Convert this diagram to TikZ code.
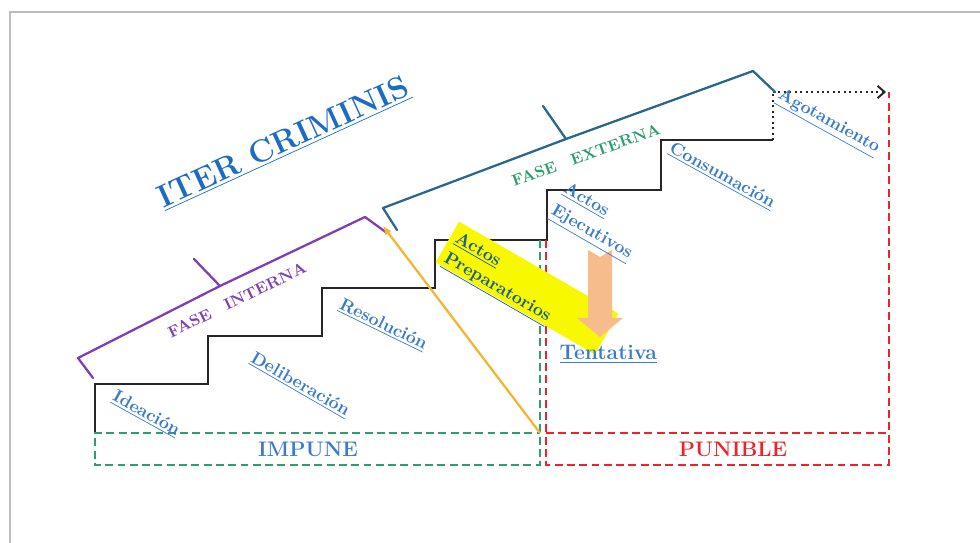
\documentclass[tikz,border=0pt]{standalone}
\usepackage{tikz}
\usetikzlibrary{positioning,arrows.meta,calc}

\definecolor{framec}{HTML}{BDBDBD}
\definecolor{stairc}{HTML}{262626}
\definecolor{internac}{HTML}{7E3FB5}
\definecolor{externac}{HTML}{2B6690}
\definecolor{faseext}{HTML}{2E9E6E}
\definecolor{ordlin}{HTML}{F2B632}
\definecolor{prepyel}{HTML}{F8F800}
\definecolor{peach}{HTML}{F7BC8C}
\definecolor{impc}{HTML}{2E9E6E}
\definecolor{punc}{HTML}{EE2229}
\definecolor{lblc}{HTML}{3A7CCB}
\definecolor{titlec}{HTML}{1C6CC4}
\definecolor{prepc}{HTML}{1F5E8C}

\begin{document}
\begin{tikzpicture}[x=0.02cm,y=-0.02cm,
        stair/.style={draw=stairc,line width=1.4pt},
        brace/.style={line width=1.3pt,line join=round,line cap=round},
        impbox/.style={draw=impc,line width=1.4pt,dash pattern=on 4.5pt off 2.5pt},
        punbox/.style={draw=punc,line width=1.4pt,dash pattern=on 4.5pt off 2.5pt},
        dotline/.style={draw=stairc,line width=1.1pt,dotted},
        lbl/.style={text=lblc,font=\bfseries\fontsize{10}{14}\selectfont,inner sep=1pt,align=left},
        fase/.style={font=\bfseries\fontsize{9}{10}\selectfont,inner sep=1pt},
        zone/.style={font=\bfseries\fontsize{12}{14}\selectfont,inner sep=1pt},
        prepbox/.style={fill=prepyel,rotate=-30,minimum width=3.68cm,minimum height=0.94cm,inner sep=0pt}]

        \useasboundingbox (0,0) rectangle (980,543);
        % Frame
        \draw[framec,line width=1.2pt] (10,543) |- (980,12);

        % Title
        \node[text=titlec,font=\bfseries\fontsize{18}{22}\selectfont,rotate=24.6] (title) at (284,143) {\underline{ITER CRIMINIS}};

        % Stairs
        \coordinate (base) at (95,432);
        \coordinate (top) at (773,140);
        \draw[stair] (base) |- (208,384) |- (322,336) |- (435,288) |- (547,240) |- (661,190) |- (top);
        \draw[dotline] (top) -- (773,92) coordinate (agot);
        \coordinate (end) at (886,92);
        \draw[dotline,-{Straight Barb[length=4pt,width=7pt]}] (agot) -- (end);

        % Zones
        \draw[impbox] (540,240) -- (540,465) -| (95,433) -- (540,433);
        \draw[punbox] (546,240) -- (546,465) -| (889,92);
        \draw[punbox] (546,433) -- (889,433);
        \node[zone,text=lblc] (impune) at (308,449) {IMPUNE};
        \node[zone,text=punc] (punible) at (733,449) {PUNIBLE};

        % Braces
        \draw[brace,internac] (93,378) -- (78,358) -- (220,286) -- (194,259) -- (220,286) -- (365,217) -- (387,233);
        \draw[brace,externac] (397,230) -- (383,208) -- (566,139) -- (543,106) -- (566,139) -- (753,71) -- (775,92);
        \node[fase,text=internac,rotate=26] (interna) at (237,300) {FASE\quad INTERNA};
        \node[fase,text=faseext,rotate=20] (externa) at (586,155) {FASE\quad EXTERNA};

        % Preparatory acts
        \coordinate (corner) at (540,433);
        \draw[ordlin,line width=1.3pt,{Latex[length=5pt,width=4.5pt]}-] (383,226) -- (corner);
        \node[prepbox] (prep) at (527,288) {};
        \node[lbl,font=\bfseries\fontsize{10}{13}\selectfont,text=prepc,rotate=-30] (preptxt) at ($(prep.center)+(-25,-9)$) {\underline{Actos}\\\underline{Preparatorios}};
        \fill[peach] (588,250) -- (600,257) -- (612,250) -- (612,318) -- (623,318) -- (600,337) coordinate (tip) -- (577,318) -- (588,318) -- cycle;
        \node[lbl,font=\bfseries\fontsize{12}{14}\selectfont,below right=0.12cm and -0.85cm of tip] (tent) {\underline{Tentativa}};

        % Step labels
        \node[lbl,rotate=-29] (idea) at (146,414) {\underline{Ideación}};
        \node[lbl,rotate=-30] (delib) at (300,385) {\underline{Deliberación}};
        \node[lbl,rotate=-26] (resol) at (383,325) {\underline{Resolución}};
        \node[lbl,rotate=-30] (ejec) at (597,223) {\underline{Actos}\\\underline{Ejecutivos}};
        \node[lbl,rotate=-29] (consu) at (722,176) {\underline{Consumación}};
        \node[lbl,rotate=-29] (agotam) at (828,123) {\underline{Agotamiento}};

    \end{tikzpicture}
\end{document}
